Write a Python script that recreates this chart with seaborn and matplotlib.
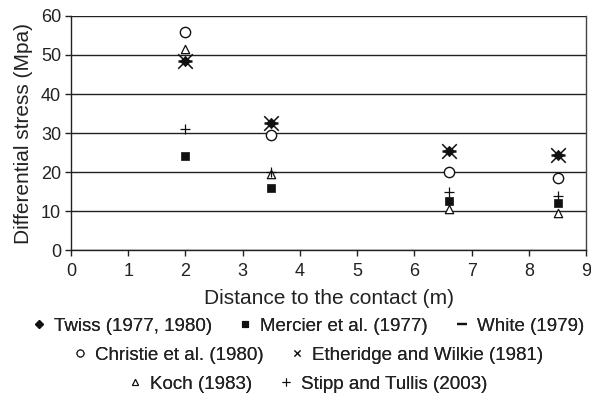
import matplotlib
matplotlib.use("Agg")
import matplotlib.pyplot as plt
import seaborn as sns
import pandas as pd
from matplotlib.lines import Line2D

distance = [2.0, 3.5, 6.6, 8.5]
twiss = [48.5, 32.5, 25.5, 24.5]
mercier = [24.0, 16.0, 12.5, 12.0]
white = [48.5, 32.5, 25.5, 24.5]
christie = [56.0, 29.5, 20.0, 18.5]
etheridge = [48.5, 32.5, 25.5, 24.5]
koch = [51.5, 19.5, 10.5, 9.5]
stipp = [31.0, 20.0, 15.0, 14.0]

series = {
    "Twiss (1977, 1980)": twiss,
    "Mercier et al. (1977)": mercier,
    "White (1979)": white,
    "Christie et al. (1980)": christie,
    "Etheridge and Wilkie (1981)": etheridge,
    "Koch (1983)": koch,
    "Stipp and Tullis (2003)": stipp,
}
rows = []
for name, vals in series.items():
    for d, v in zip(distance, vals):
        rows.append({"study": name, "distance": d, "stress": v})
df = pd.DataFrame(rows)

sns.set_style("white")
plt.rcParams["font.family"] = ["Liberation Sans", "DejaVu Sans"]

fig = plt.figure(figsize=(5.91, 3.99), dpi=100)
ax = fig.add_axes([0.120, 0.373, 0.872, 0.587])

styles = {
    "Twiss (1977, 1980)": dict(marker="D", s=28, facecolor="#111111", edgecolor="#111111", lw=0.5),
    "Mercier et al. (1977)": dict(marker="s", s=26, facecolor="#111111", edgecolor="#111111", lw=0.5),
    "White (1979)": dict(marker="_", s=110, facecolor="#111111", edgecolor="#111111", lw=1.8),
    "Christie et al. (1980)": dict(marker="o", s=55, facecolor="white", edgecolor="#111111", lw=1.0),
    "Etheridge and Wilkie (1981)": dict(marker="x", s=110, facecolor="#111111", edgecolor="#111111", lw=1.1),
    "Koch (1983)": dict(marker="^", s=36, facecolor="white", edgecolor="#111111", lw=0.9),
    "Stipp and Tullis (2003)": dict(marker="+", s=50, facecolor="#111111", edgecolor="#111111", lw=0.9),
}

for name in series:
    st = styles[name]
    sub = df[df["study"] == name]
    if st["marker"] in ("x", "+", "_"):
        sns.scatterplot(data=sub, x="distance", y="stress", ax=ax, marker=st["marker"],
                        s=st["s"], color=st["edgecolor"], linewidth=st["lw"], zorder=3, legend=False)
    else:
        sns.scatterplot(data=sub, x="distance", y="stress", ax=ax, marker=st["marker"],
                        s=st["s"], facecolor=st["facecolor"], edgecolor=st["edgecolor"],
                        linewidth=st["lw"], zorder=3, legend=False)

ax.set_xlim(0, 9)
ax.set_ylim(0, 60)
ax.set_xticks(range(0, 10))
ax.set_yticks(range(0, 61, 10))
ax.yaxis.grid(True, color="#222222", linewidth=1.0)
ax.set_axisbelow(True)
for side in ["left", "bottom"]:
    ax.spines[side].set_color("#222222")
    ax.spines[side].set_linewidth(1.0)
ax.spines["top"].set_visible(False)
ax.spines["right"].set_color("#444444")
ax.spines["right"].set_linewidth(1.0)
ax.tick_params(axis="both", direction="out", length=4, width=1.0, color="#222222",
               labelsize=13, labelcolor="#222222", bottom=True, left=True, pad=3)
ax.tick_params(axis="x", pad=5)
ax.set_xlabel("Distance to the contact (m)", fontsize=15, color="#222222", labelpad=7)
ax.set_ylabel("Differential stress (Mpa)", fontsize=15, color="#222222", labelpad=6)

def handle(name):
    st = styles[name]
    ms = {"D": 4, "s": 4, "_": 7, "o": 5, "x": 5, "^": 5, "+": 6}[st["marker"]]
    return Line2D([], [], linestyle="none", marker=st["marker"], markersize=ms,
                  markerfacecolor=st["facecolor"], markeredgecolor=st["edgecolor"],
                  markeredgewidth=0.8 if st["marker"] not in ("_",) else 1.6)

legend_rows = [
    (["Twiss (1977, 1980)", "Mercier et al. (1977)", "White (1979)"], 326),
    (["Christie et al. (1980)", "Etheridge and Wilkie (1981)"], 355),
    (["Koch (1983)", "Stipp and Tullis (2003)"], 384),
]
for names, ypx in legend_rows:
    leg = fig.legend([handle(n) for n in names], names, loc="center",
                     bbox_to_anchor=(0.5 + 13 / 591, 1 - ypx / 399), ncol=len(names), frameon=False,
                     fontsize=13.5, handlelength=0.6, handletextpad=0.5, columnspacing=1.5,
                     borderaxespad=0, borderpad=0)
    for t in leg.get_texts():
        t.set_color("#222222")
    fig.add_artist(leg)

fig.savefig("out.png", dpi=100)
